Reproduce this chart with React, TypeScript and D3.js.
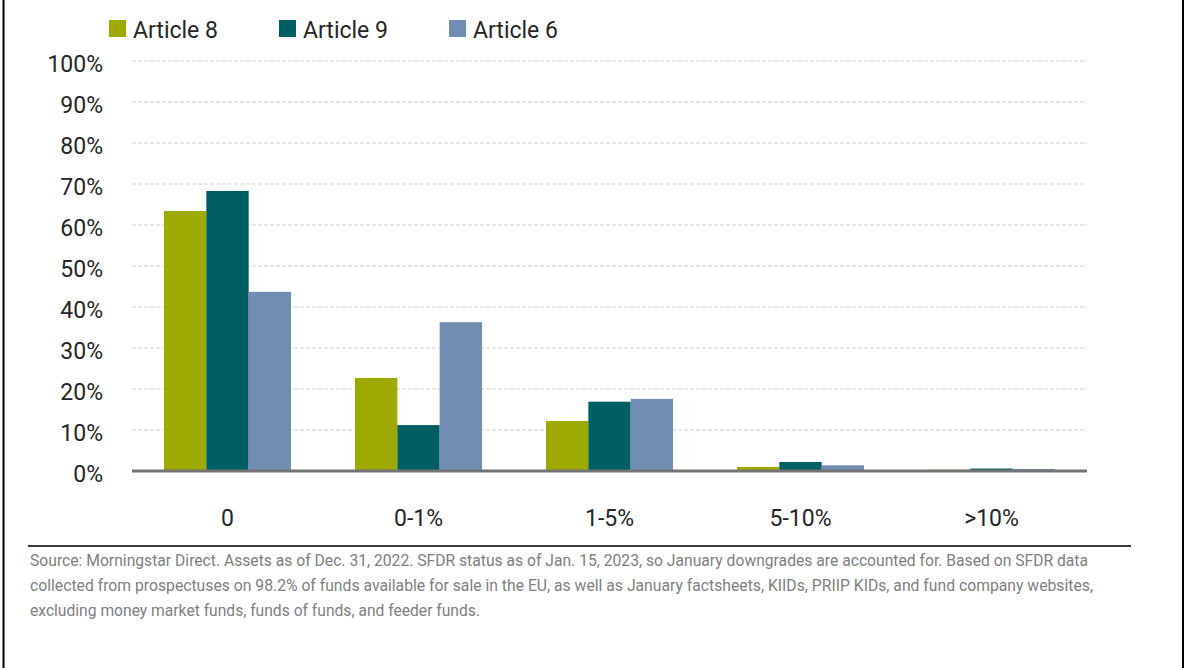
import React from "react";
import * as d3 from "d3";

const categories = ["0", "0-1%", "1-5%", "5-10%", ">10%"];
const seriesNames = ["Article 8", "Article 9", "Article 6"];
const article8 = [63.4, 22.7, 12.2, 1.0, 0.3];
const article9 = [68.3, 11.2, 16.9, 2.2, 0.6];
const article6 = [43.7, 36.3, 17.6, 1.4, 0.5];
const seriesColors = ["#9FAA00", "#005F62", "#728DB2"];
const yTicks = [0, 10, 20, 30, 40, 50, 60, 70, 80, 90, 100];
const sourceLines = [
  "Source: Morningstar Direct. Assets as of Dec. 31, 2022. SFDR status as of Jan. 15, 2023, so January downgrades are accounted for. Based on SFDR data",
  "collected from prospectuses on 98.2% of funds available for sale in the EU, as well as January factsheets, KIIDs, PRIIP KIDs, and fund company websites,",
  "excluding money market funds, funds of funds, and feeder funds.",
];
const sourceWidths = [1058, 1063, 450];

const W = 1187;
const H = 668;
const plotLeft = 132;
const plotRight = 1087;
const plotTop = 61;
const plotBottom = 471;
const FONT = "Roboto, 'Liberation Sans', Arial, sans-serif";

export default function App() {
  const seriesValues = [article8, article9, article6];
  const x0 = d3
    .scaleBand<string>()
    .domain(categories)
    .range([plotLeft, plotRight])
    .paddingInner(0.335)
    .paddingOuter(0.1675);
  const x1 = d3
    .scaleBand<string>()
    .domain(seriesNames)
    .range([0, x0.bandwidth()])
    .padding(0);
  const y = d3.scaleLinear().domain([0, 100]).range([plotBottom, plotTop]);
  const fullBand = d3.scaleBand<string>().domain(categories).range([plotLeft, plotRight]);

  const legendX = [109, 279, 449];

  return (
    <svg
      width={W}
      height={H}
      style={{ position: "absolute", left: 0, top: 0, background: "#fff" }}
      fontFamily={FONT}
    >
      <rect x={0} y={0} width={W} height={H} fill="#fff" />
      {/* borders */}
      <line x1={3.5} x2={3.5} y1={0} y2={H} stroke="#000" strokeWidth={2} />
      <line x1={1183} x2={1183} y1={0} y2={H} stroke="#000" strokeWidth={2} />

      {/* legend */}
      {seriesNames.map((s, i) => (
        <g key={s}>
          <rect x={legendX[i]} y={20} width={17} height={17} fill={seriesColors[i]} />
          <text x={legendX[i] + 24} y={38} fontSize={23} fill="#262626">
            {s}
          </text>
        </g>
      ))}

      {/* gridlines */}
      {yTicks
        .filter((t) => t > 0)
        .map((t) => (
          <line
            key={t}
            x1={plotLeft}
            x2={plotRight}
            y1={y(t)}
            y2={y(t)}
            stroke="#cfcfcf"
            strokeWidth={1}
            strokeDasharray="4,2"
          />
        ))}

      {/* y tick labels */}
      {yTicks.map((t) => (
        <text
          key={t}
          x={103}
          y={y(t) + 11}
          textAnchor="end"
          fontSize={23}
          fill="#262626"
        >
          {t + "%"}
        </text>
      ))}

      {/* bars */}
      {categories.map((c, ci) => (
        <g key={c} transform={`translate(${x0(c)},0)`}>
          {seriesNames.map((s, si) => {
            const v = seriesValues[si][ci];
            return (
              <rect
                key={s}
                x={x1(s)}
                y={y(v)}
                width={x1.bandwidth()}
                height={y(0) - y(v)}
                fill={seriesColors[si]}
              />
            );
          })}
        </g>
      ))}

      {/* baseline */}
      <line
        x1={plotLeft}
        x2={plotRight}
        y1={plotBottom}
        y2={plotBottom}
        stroke="#747474"
        strokeWidth={3}
      />

      {/* x labels */}
      {categories.map((c) => (
        <text
          key={c}
          x={(fullBand(c) as number) + fullBand.bandwidth() / 2}
          y={526}
          textAnchor="middle"
          fontSize={23}
          fill="#262626"
        >
          {c}
        </text>
      ))}

      {/* separator */}
      <line x1={28} x2={1131} y1={546} y2={546} stroke="#3a3a3a" strokeWidth={2} />

      {/* source */}
      {sourceLines.map((l, i) => (
        <text
          key={i}
          x={30}
          y={566 + i * 25}
          fontSize={17}
          fill="#808080"
          textLength={sourceWidths[i]}
          lengthAdjust="spacingAndGlyphs"
        >
          {l}
        </text>
      ))}
    </svg>
  );
}
